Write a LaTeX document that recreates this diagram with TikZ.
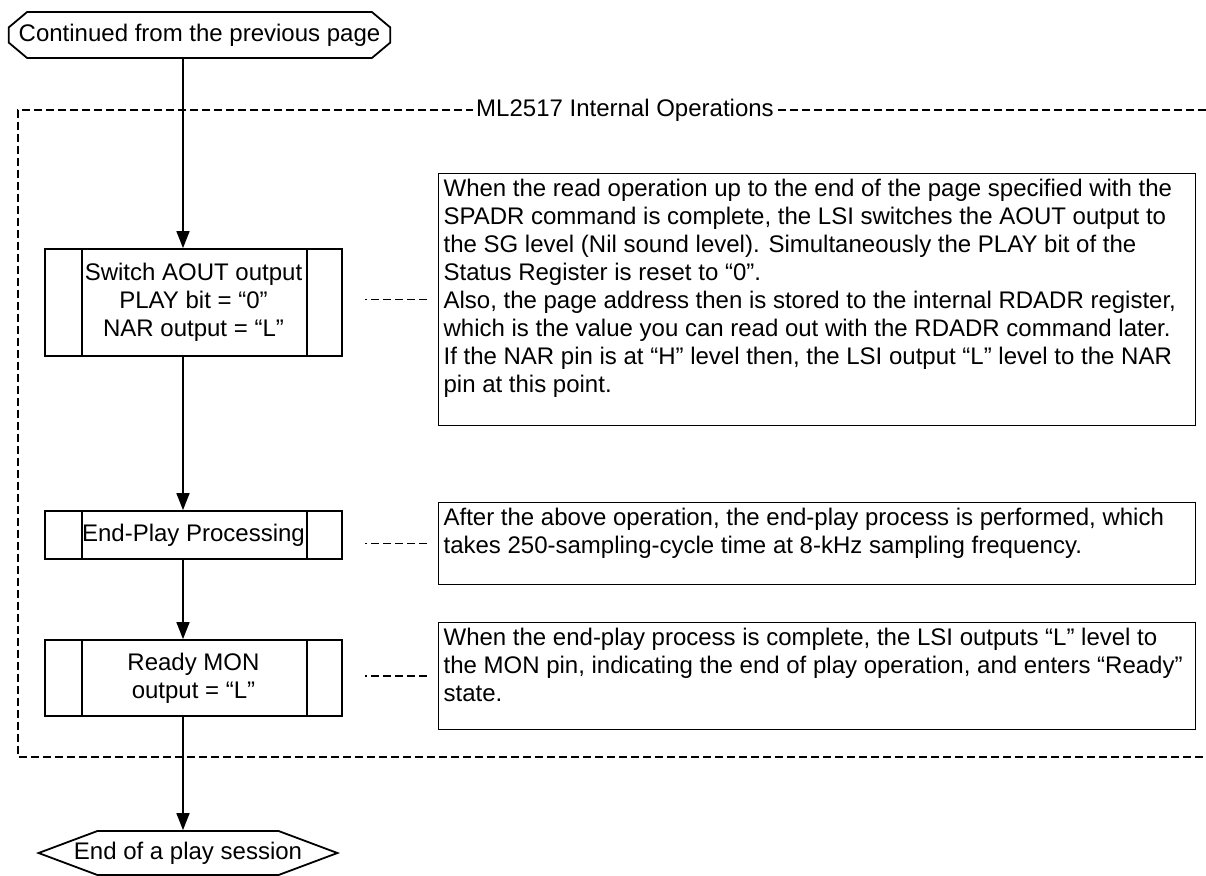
\documentclass[tikz,border=0pt]{standalone}
\usepackage{fontspec}
\setmainfont{Liberation Sans}
\usetikzlibrary{arrows.meta,shapes.misc,shapes.symbols}

\begin{document}
\begin{tikzpicture}[x=0.5pt, y=-0.5pt, font=\fontsize{12}{14}\selectfont,
  flow/.style={-{Triangle[length=8.5pt,width=6.5pt]}, line width=0.8pt},
  link/.style={dash pattern=on 4pt off 2pt, line width=0.8pt},
  frame/.style={dash pattern=on 4pt off 2pt, line width=0.8pt},
  subr/.style={draw, line width=0.9pt, minimum width=148.5pt, align=center,
    path picture={
      \draw[line width=0.9pt] ([xshift=18.5pt]path picture bounding box.north west) -- ([xshift=18.5pt]path picture bounding box.south west);
      \draw[line width=0.9pt] ([xshift=-17.5pt]path picture bounding box.north east) -- ([xshift=-17.5pt]path picture bounding box.south east);}},
  note/.style={draw, line width=0.6pt, inner sep=2.5pt, anchor=north west}]
  \useasboundingbox (0,0) rectangle (1206,875);
  \coordinate (col) at (183,0);
  % terminals
  \node[draw, line width=0.9pt, chamfered rectangle, chamfered rectangle angle=50,
    chamfered rectangle xsep=5pt, minimum width=190.5pt, minimum height=23pt,
    inner sep=0pt] (start) at (199.5,35) {Continued from the previous page};
  \node[draw, line width=0.9pt, signal, signal to=west and east, signal pointer angle=41,
    minimum height=22pt, inner xsep=-11.75pt, inner ysep=0pt] (stop) at (188,853) {End of a play session};
  % internal operations frame
  \draw[frame] (1206,110) -- (18,110) -- (18,757) -- (1206,757);
  \node[fill=white, inner sep=1.5pt] (optitle) at (625,110) {ML2517 Internal Operations};
  % process steps
  \node[subr, minimum height=53.5pt] (swbox) at (193.5,302.5)
    {Switch AOUT output\\PLAY bit = “0”\\NAR output = “L”};
  \node[subr, minimum height=24pt] (endbox) at (193.5,535) {End-Play Processing};
  \node[subr, minimum height=38pt] (rdybox) at (193.5,678) {Ready MON\\output = “L”};
  % notes
  \node[note] (noteA) at (438,173) {\parbox[c][121pt][t]{373.5pt}{\raggedright
    When the read operation up to the end of the page specified with the\\
    SPADR command is complete, the LSI switches the AOUT output to\\
    the SG level (Nil sound level). Simultaneously the PLAY bit of the\\
    Status Register is reset to “0”.\\
    Also, the page address then is stored to the internal RDADR register,\\
    which is the value you can read out with the RDADR command later.\\
    If the NAR pin is at “H” level then, the LSI output “L” level to the NAR\\
    pin at this point.}};
  \node[note] (noteB) at (438,502) {\parbox[c][36pt][t]{373.5pt}{\raggedright
    After the above operation, the end-play process is performed, which\\
    takes 250-sampling-cycle time at 8-kHz sampling frequency.}};
  \node[note] (noteC) at (438,622) {\parbox[c][48.5pt][t]{373.5pt}{\raggedright
    When the end-play process is complete, the LSI outputs “L” level to\\
    the MON pin, indicating the end of play operation, and enters “Ready”\\
    state.}};
  % flow
  \draw[flow] (start.south -| col) -- (swbox.north -| col);
  \draw[flow] (swbox.south -| col) -- (endbox.north -| col);
  \draw[flow] (endbox.south -| col) -- (rdybox.north -| col);
  \draw[flow] (rdybox.south -| col) -- (stop.north -| col);
  % note links
  \draw[link] ([xshift=-5.5pt]noteA.west) -- ++(-31pt,0);
  \draw[link] ([xshift=-5.5pt]noteB.west) -- ++(-31pt,0);
  \draw[link] ([xshift=-5.5pt]noteC.west) -- ++(-31pt,0);
\end{tikzpicture}
\end{document}
